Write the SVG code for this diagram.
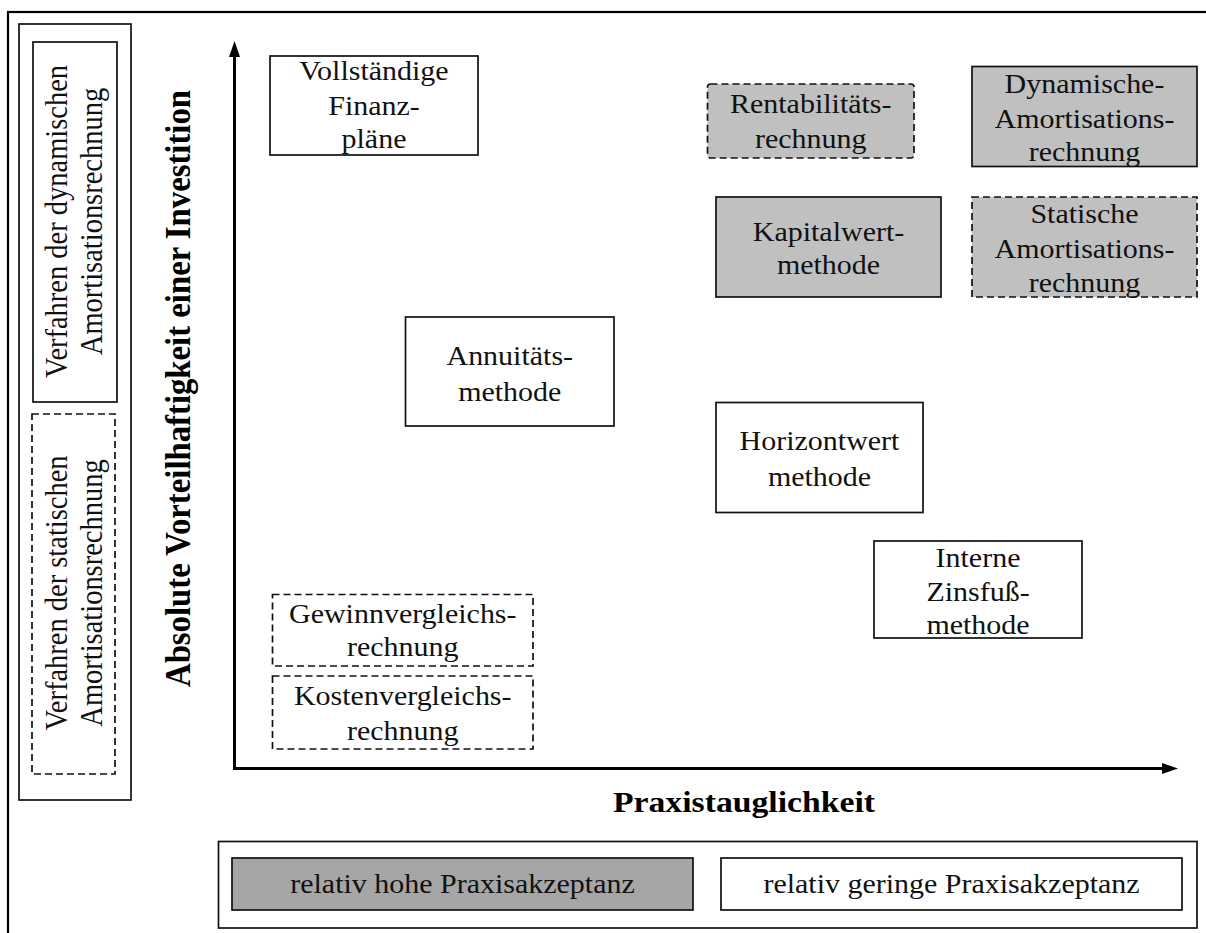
<svg xmlns="http://www.w3.org/2000/svg" width="1206" height="933" viewBox="0 0 1206 933">
<style>
.frame{fill:none;stroke:#000;stroke-width:2.2}
.box{stroke:#111;stroke-width:1.7}
.w{fill:#fff}
.g{fill:#c0c0c0}
.gd{fill:#a6a6a6}
.dash{stroke-dasharray:7 4}
.t{font-family:"Liberation Serif","Times New Roman",serif;font-size:30px;fill:#111;text-anchor:middle}
.r{font-family:"Liberation Serif","Times New Roman",serif;font-size:32px;fill:#111;text-anchor:middle}
.b{font-family:"Liberation Serif","Times New Roman",serif;font-weight:bold;fill:#000;text-anchor:middle}
.axis{stroke:#000;stroke-width:3;fill:none}
</style>
<rect width="1206" height="933" fill="#fff"/>
<rect class="frame" x="8" y="12" width="1215" height="945"/>

<g id="left-panel">
  <rect class="box" x="19" y="24" width="112" height="776" fill="none"/>
  <g id="legend-dynamisch">
    <rect class="box w" x="33" y="42" width="84" height="360"/>
    <text class="r" transform="translate(67,221.5) scale(1,0.89) rotate(-90)"><tspan x="0" y="0">Verfahren der dynamischen</tspan><tspan x="0" y="35">Amortisationsrechnung</tspan></text>
  </g>
  <g id="legend-statisch">
    <rect class="box w dash" x="32" y="414" width="83" height="360"/>
    <text class="r" transform="translate(66.5,593) scale(1,0.89) rotate(-90)"><tspan x="0" y="0">Verfahren der statischen</tspan><tspan x="0" y="36">Amortisationsrechnung</tspan></text>
  </g>
</g>

<g id="connectors">
  <line class="axis" x1="234.5" y1="770" x2="234.5" y2="54"/>
  <polygon points="234.5,41 229,57 240,57" fill="#000"/>
  <line class="axis" x1="233" y1="768.5" x2="1165" y2="768.5"/>
  <polygon points="1178,768.5 1162,763 1162,774" fill="#000"/>
</g>

<g id="axis-labels">
  <text class="b" font-size="36.8" transform="translate(189.5,388.5) scale(1,0.89) rotate(-90)">Absolute Vorteilhaftigkeit einer Investition</text>
  <text class="b" font-size="33.7" transform="translate(744,811.5) scale(1,0.89)">Praxistauglichkeit</text>
</g>

<g id="node-vofi">
  <rect class="box w" x="270" y="56" width="208" height="99"/>
  <text class="t" transform="translate(374,80) scale(1,0.89)"><tspan x="0" y="0">Vollständige</tspan><tspan x="0" y="39.3">Finanz-</tspan><tspan x="0" y="76.4">pläne</tspan></text>
</g>
<g id="node-rentabilitaet">
  <rect class="box g dash" x="707.5" y="84" width="206.5" height="74" rx="3"/>
  <text class="t" transform="translate(810.75,113) scale(1,0.89)"><tspan x="0" y="0">Rentabilitäts-</tspan><tspan x="0" y="39.3">rechnung</tspan></text>
</g>
<g id="node-dyn-amort">
  <rect class="box g" x="972" y="66.5" width="225" height="100"/>
  <text class="t" transform="translate(1084.5,93) scale(1,0.89)"><tspan x="0" y="0">Dynamische-</tspan><tspan x="0" y="39.3">Amortisations-</tspan><tspan x="0" y="76.4">rechnung</tspan></text>
</g>
<g id="node-kapitalwert">
  <rect class="box g" x="716" y="197" width="225" height="100"/>
  <text class="t" transform="translate(828.5,240.5) scale(1,0.89)"><tspan x="0" y="0">Kapitalwert-</tspan><tspan x="0" y="38.2">methode</tspan></text>
</g>
<g id="node-stat-amort">
  <rect class="box g dash" x="972" y="197" width="225" height="100"/>
  <text class="t" transform="translate(1084.5,223) scale(1,0.89)"><tspan x="0" y="0">Statische</tspan><tspan x="0" y="39.3">Amortisations-</tspan><tspan x="0" y="77.5">rechnung</tspan></text>
</g>
<g id="node-annuitaet">
  <rect class="box w" x="405.5" y="317" width="208.5" height="109"/>
  <text class="t" transform="translate(509.75,365) scale(1,0.89)"><tspan x="0" y="0">Annuitäts-</tspan><tspan x="0" y="40.4">methode</tspan></text>
</g>
<g id="node-horizontwert">
  <rect class="box w" x="716" y="402.5" width="207" height="110"/>
  <text class="t" transform="translate(819.5,450) scale(1,0.89)"><tspan x="0" y="0">Horizontwert</tspan><tspan x="0" y="41">methode</tspan></text>
</g>
<g id="node-zinsfuss">
  <rect class="box w" x="874" y="541" width="208" height="97"/>
  <text class="t" transform="translate(978,567) scale(1,0.89)"><tspan x="0" y="0">Interne</tspan><tspan x="0" y="38.2">Zinsfuß-</tspan><tspan x="0" y="75.3">methode</tspan></text>
</g>
<g id="node-gewinn">
  <rect class="box w dash" x="272.5" y="594.5" width="260.5" height="71.5"/>
  <text class="t" transform="translate(402.75,623) scale(1,0.89)"><tspan x="0" y="0">Gewinnvergleichs-</tspan><tspan x="0" y="37.1">rechnung</tspan></text>
</g>
<g id="node-kosten">
  <rect class="box w dash" x="272.5" y="676" width="260.5" height="73"/>
  <text class="t" transform="translate(402.75,704.5) scale(1,0.89)"><tspan x="0" y="0">Kostenvergleichs-</tspan><tspan x="0" y="39.9">rechnung</tspan></text>
</g>

<g id="legend-bottom">
  <rect class="box" x="218.5" y="841.5" width="978.5" height="86.5" fill="none"/>
  <g id="legend-hoch">
    <rect class="box gd" x="232" y="858" width="461" height="52"/>
    <text class="t" transform="translate(462.5,893) scale(1,0.89)">relativ hohe Praxisakzeptanz</text>
  </g>
  <g id="legend-gering">
    <rect class="box w" x="721" y="858" width="461" height="52"/>
    <text class="t" transform="translate(951.5,893) scale(1,0.89)">relativ geringe Praxisakzeptanz</text>
  </g>
</g>
</svg>
